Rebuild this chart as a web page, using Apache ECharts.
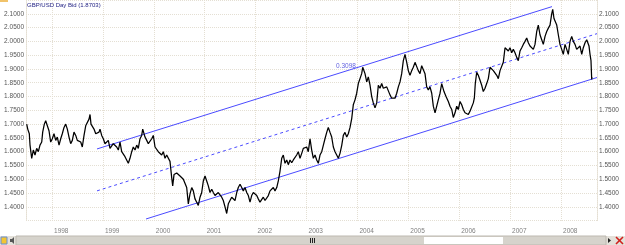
<!DOCTYPE html>
<html>
<head>
<meta charset="utf-8">
<script src="https://cdn.jsdelivr.net/npm/echarts@6/dist/echarts.min.js"></script>
<style>
  html, body { margin: 0; padding: 0; background: #fff; }
  #chart { width: 625px; height: 245px; }
</style>
</head>
<body>
<div id="chart"></div>
<script>
// GBP/USD daily bid; dates as decimal years
const years = [
  1997.503, 1997.523, 1997.554, 1997.568, 1997.601, 1997.633, 1997.666, 1997.699, 1997.731, 1997.764,
  1997.798, 1997.817, 1997.849, 1997.876, 1997.908, 1997.941, 1997.974, 1998.006, 1998.039, 1998.073,
  1998.104, 1998.138, 1998.171, 1998.202, 1998.236, 1998.269, 1998.301, 1998.334, 1998.367, 1998.399,
  1998.432, 1998.466, 1998.497, 1998.530, 1998.564, 1998.595, 1998.629, 1998.662, 1998.694, 1998.727,
  1998.747, 1998.766, 1998.792, 1998.825, 1998.859, 1998.890, 1998.923, 1998.943, 1998.976, 1999.008,
  1999.041, 1999.075, 1999.106, 1999.139, 1999.173, 1999.204, 1999.238, 1999.271, 1999.303, 1999.336,
  1999.369, 1999.401, 1999.434, 1999.468, 1999.499, 1999.532, 1999.566, 1999.597, 1999.631, 1999.664,
  1999.695, 1999.729, 1999.762, 1999.782, 1999.827, 1999.861, 1999.892, 1999.925, 1999.959, 1999.990,
  2000.024, 2000.057, 2000.088, 2000.122, 2000.155, 2000.187, 2000.220, 2000.253, 2000.285, 2000.318,
  2000.352, 2000.371, 2000.397, 2000.450, 2000.515, 2000.548, 2000.580, 2000.613, 2000.646, 2000.678,
  2000.711, 2000.745, 2000.776, 2000.809, 2000.843, 2000.874, 2000.908, 2000.941, 2000.973, 2001.006,
  2001.039, 2001.071, 2001.104, 2001.138, 2001.169, 2001.202, 2001.236, 2001.267, 2001.301, 2001.334,
  2001.365, 2001.399, 2001.432, 2001.464, 2001.497, 2001.530, 2001.562, 2001.595, 2001.629, 2001.660,
  2001.694, 2001.727, 2001.758, 2001.792, 2001.825, 2001.857, 2001.890, 2001.923, 2001.955, 2001.988,
  2002.022, 2002.053, 2002.086, 2002.120, 2002.151, 2002.185, 2002.218, 2002.250, 2002.283, 2002.316,
  2002.348, 2002.381, 2002.415, 2002.446, 2002.479, 2002.513, 2002.544, 2002.578, 2002.611, 2002.642,
  2002.676, 2002.709, 2002.741, 2002.774, 2002.807, 2002.839, 2002.872, 2002.906, 2002.937, 2002.971,
  2003.004, 2003.035, 2003.069, 2003.102, 2003.134, 2003.167, 2003.200, 2003.232, 2003.265, 2003.299,
  2003.330, 2003.363, 2003.397, 2003.428, 2003.462, 2003.495, 2003.527, 2003.560, 2003.593, 2003.625,
  2003.658, 2003.692, 2003.723, 2003.756, 2003.790, 2003.821, 2003.855, 2003.888, 2003.919, 2003.953,
  2003.986, 2004.018, 2004.051, 2004.084, 2004.104, 2004.116, 2004.149, 2004.183, 2004.214, 2004.248,
  2004.281, 2004.312, 2004.346, 2004.379, 2004.411, 2004.444, 2004.477, 2004.509, 2004.542, 2004.576,
  2004.607, 2004.640, 2004.674, 2004.705, 2004.739, 2004.772, 2004.804, 2004.837, 2004.870, 2004.902,
  2004.935, 2004.969, 2005.000, 2005.033, 2005.067, 2005.098, 2005.132, 2005.165, 2005.196, 2005.230,
  2005.263, 2005.295, 2005.328, 2005.361, 2005.393, 2005.426, 2005.460, 2005.491, 2005.525, 2005.558,
  2005.589, 2005.623, 2005.656, 2005.676, 2005.701, 2005.741, 2005.786, 2005.819, 2005.853, 2005.884,
  2005.918, 2005.951, 2005.982, 2006.016, 2006.049, 2006.081, 2006.114, 2006.147, 2006.179, 2006.212,
  2006.246, 2006.277, 2006.297, 2006.316, 2006.344, 2006.375, 2006.409, 2006.442, 2006.473, 2006.507,
  2006.540, 2006.572, 2006.605, 2006.639, 2006.670, 2006.703, 2006.737, 2006.768, 2006.802, 2006.835,
  2006.866, 2006.900, 2006.933, 2006.965, 2006.998, 2007.031, 2007.063, 2007.096, 2007.130, 2007.161,
  2007.194, 2007.228, 2007.259, 2007.293, 2007.326, 2007.358, 2007.391, 2007.424, 2007.456, 2007.489,
  2007.523, 2007.554, 2007.587, 2007.621, 2007.652, 2007.686, 2007.719, 2007.751, 2007.784, 2007.817,
  2007.837, 2007.862, 2007.882, 2007.916, 2007.947, 2007.980, 2008.014, 2008.045, 2008.079, 2008.112,
  2008.143, 2008.177, 2008.210, 2008.242, 2008.275, 2008.308, 2008.340, 2008.373, 2008.407, 2008.438,
  2008.472, 2008.505, 2008.525, 2008.550, 2008.570, 2008.589, 2008.603, 2008.609
];
const bid = [
  1.700, 1.682, 1.665, 1.624, 1.576, 1.606, 1.588, 1.612, 1.600, 1.624,
  1.635, 1.671, 1.700, 1.712, 1.694, 1.676, 1.635, 1.647, 1.665, 1.641,
  1.653, 1.624, 1.647, 1.665, 1.688, 1.700, 1.682, 1.653, 1.629, 1.641,
  1.671, 1.659, 1.641, 1.647, 1.635, 1.617, 1.659, 1.694, 1.700, 1.718,
  1.735, 1.700, 1.706, 1.682, 1.665, 1.659, 1.671, 1.682, 1.659, 1.647,
  1.629, 1.624, 1.641, 1.612, 1.606, 1.629, 1.635, 1.617, 1.606, 1.635,
  1.600, 1.594, 1.582, 1.576, 1.558, 1.576, 1.600, 1.617, 1.606, 1.624,
  1.612, 1.647, 1.659, 1.682, 1.653, 1.641, 1.629, 1.624, 1.647, 1.659,
  1.617, 1.612, 1.600, 1.594, 1.588, 1.600, 1.576, 1.588, 1.582, 1.565,
  1.505, 1.476, 1.517, 1.523, 1.512, 1.517, 1.500, 1.500, 1.470, 1.411,
  1.447, 1.470, 1.458, 1.429, 1.417, 1.405, 1.435, 1.452, 1.494, 1.512,
  1.494, 1.476, 1.452, 1.464, 1.452, 1.441, 1.435, 1.452, 1.447, 1.435,
  1.423, 1.400, 1.376, 1.411, 1.423, 1.435, 1.429, 1.423, 1.452, 1.470,
  1.482, 1.470, 1.458, 1.470, 1.452, 1.441, 1.417, 1.441, 1.452, 1.458,
  1.441, 1.429, 1.417, 1.423, 1.435, 1.423, 1.429, 1.441, 1.458, 1.464,
  1.470, 1.458, 1.470, 1.494, 1.529, 1.576, 1.588, 1.558, 1.570, 1.553,
  1.570, 1.560, 1.570, 1.565, 1.588, 1.600, 1.576, 1.594, 1.612, 1.606,
  1.617, 1.600, 1.647, 1.606, 1.576, 1.588, 1.570, 1.558, 1.588, 1.600,
  1.623, 1.647, 1.670, 1.688, 1.670, 1.653, 1.617, 1.600, 1.588, 1.576,
  1.594, 1.623, 1.659, 1.670, 1.653, 1.665, 1.688, 1.720, 1.770, 1.788,
  1.812, 1.847, 1.865, 1.883, 1.906, 1.912, 1.883, 1.853, 1.871, 1.841,
  1.800, 1.777, 1.759, 1.777, 1.841, 1.830, 1.847, 1.830, 1.824, 1.835,
  1.830, 1.806, 1.794, 1.788, 1.794, 1.812, 1.835, 1.853, 1.883, 1.930,
  1.953, 1.924, 1.894, 1.877, 1.894, 1.906, 1.924, 1.930, 1.894, 1.883,
  1.912, 1.918, 1.883, 1.835, 1.824, 1.835, 1.812, 1.765, 1.741, 1.747,
  1.788, 1.812, 1.847, 1.853, 1.818, 1.800, 1.782, 1.765, 1.753, 1.724,
  1.741, 1.765, 1.753, 1.782, 1.770, 1.753, 1.741, 1.747, 1.735, 1.747,
  1.741, 1.777, 1.794, 1.847, 1.888, 1.877, 1.859, 1.841, 1.818, 1.830,
  1.847, 1.865, 1.906, 1.912, 1.894, 1.900, 1.877, 1.865, 1.894, 1.900,
  1.924, 1.977, 1.983, 1.965, 1.977, 1.959, 1.971, 1.959, 1.942, 1.930,
  1.965, 1.977, 1.989, 2.000, 2.012, 1.995, 1.983, 1.989, 1.971, 1.989,
  2.036, 2.059, 2.024, 2.006, 1.989, 2.018, 2.036, 2.048, 2.059, 2.100,
  2.116, 2.083, 2.089, 2.059, 2.024, 1.989, 1.971, 1.953, 1.989, 1.971,
  1.953, 2.000, 2.018, 2.000, 1.989, 1.971, 1.965, 1.983, 1.953, 1.977,
  1.995, 2.006, 2.012, 1.983, 1.953, 1.930, 1.862, 1.870
];

// channel drawn on the chart (start / end)
const upperYears = [1998.884, 2007.823];
const upperVals = [1.610, 2.126];
const midYears = [1998.884, 2008.707];
const midVals = [1.458, 2.028];
const lowerYears = [1999.847, 2008.707];
const lowerVals = [1.356, 1.869];
const fibText = '0.3098';
const fibAt = [2003.776, 1.909];

const yearTicks = [1998, 1999, 2000, 2001, 2002, 2003, 2004, 2005, 2006, 2007, 2008];
const xMin = 1997.489, xMax = 2008.707;
const lastBid = '1.8703';

const zip = (xs, ys) => xs.map((x, i) => [x, ys[i]]);

const grid = '#e4dfd3';
const blue = '#4b4bff';
const font = 'Liberation Sans';

const yAxisBase = {
  type: 'value',
  min: 1.35,
  max: 2.15,
  interval: 0.05,
  axisLine: { show: true, lineStyle: { color: grid, type: 'dotted' } },
  axisTick: { show: false },
  splitLine: { show: true, lineStyle: { color: grid, type: 'dotted' } },
  axisLabel: {
    showMinLabel: false,
    showMaxLabel: false,
    color: '#555',
    fontSize: 6.5,
    fontFamily: font,
    margin: 2,
    formatter: v => v.toFixed(4)
  }
};

const chart = echarts.init(document.getElementById('chart'));
chart.setOption({
  animation: false,
  backgroundColor: '#fff',
  grid: { left: 26, right: 28, top: -5.65, bottom: 24.35 },
  title: {
    text: 'GBP/USD Day Bid (' + lastBid + ')',
    left: 27, top: 2, padding: 0,
    textStyle: { color: '#1c1c80', fontSize: 6, fontWeight: 'normal', fontFamily: font }
  },
  xAxis: {
    type: 'value',
    min: xMin,
    max: xMax,
    axisLine: { show: false },
    axisTick: { show: false, customValues: yearTicks },
    splitLine: { show: true, lineStyle: { color: grid, type: 'dotted' } },
    axisLabel: {
      customValues: yearTicks,
      color: '#808080',
      fontSize: 6.5,
      fontFamily: font,
      margin: 7,
      align: 'left',
      padding: [0, 0, 0, 2],
      formatter: v => String(Math.round(v))
    }
  },
  yAxis: [
    Object.assign({}, yAxisBase, { position: 'left' }),
    Object.assign({}, yAxisBase, { position: 'right', splitLine: { show: false } })
  ],
  series: [
    {
      name: 'Bid', type: 'line', showSymbol: false,
      data: zip(years, bid),
      lineStyle: { color: '#000', width: 1.25 },
      z: 3
    },
    {
      name: 'upper', type: 'line', showSymbol: false,
      data: zip(upperYears, upperVals),
      lineStyle: { color: blue, width: 1 },
      markPoint: {
        symbol: 'circle', symbolSize: 0,
        label: { show: true, position: 'inside', formatter: fibText, color: '#6464e0', fontSize: 6.5, fontFamily: font },
        data: [{ coord: fibAt }]
      },
      z: 2
    },
    {
      name: 'mid', type: 'line', showSymbol: false,
      data: zip(midYears, midVals),
      lineStyle: { color: blue, width: 1, type: [3, 3] },
      z: 2
    },
    {
      name: 'lower', type: 'line', showSymbol: false,
      data: zip(lowerYears, lowerVals),
      lineStyle: { color: blue, width: 1 },
      z: 2
    }
  ],
  graphic: [
    // corner tab
    { type: 'rect', shape: { x: 0, y: 0, width: 8, height: 2 }, style: { fill: '#f1c36a' } },
    // scroll bar
    { type: 'rect', shape: { x: 0, y: 236, width: 625, height: 9 }, style: { fill: '#e4e1da' } },
    { type: 'rect', shape: { x: 16, y: 236, width: 590, height: 9 }, style: { fill: '#d6d3cc', stroke: '#bdb9b0', lineWidth: 1 } },
    { type: 'rect', shape: { x: 424, y: 237, width: 79, height: 7 }, style: { fill: '#ffffff' } },
    { type: 'rect', shape: { x: 310, y: 238, width: 1, height: 5 }, style: { fill: '#222' } },
    { type: 'rect', shape: { x: 312, y: 238, width: 1, height: 5 }, style: { fill: '#222' } },
    { type: 'rect', shape: { x: 314, y: 238, width: 1, height: 5 }, style: { fill: '#222' } },
    { type: 'polygon', shape: { points: [[608, 238], [608, 243], [611, 240.5]] }, style: { fill: '#222' } },
    { type: 'line', shape: { x1: 616, y1: 237, x2: 623, y2: 244 }, style: { stroke: '#d0201c', lineWidth: 1.6 } },
    { type: 'line', shape: { x1: 623, y1: 237, x2: 616, y2: 244 }, style: { stroke: '#d0201c', lineWidth: 1.6 } },
    { type: 'rect', shape: { x: 1, y: 237, width: 6, height: 7 }, style: { fill: '#f3c532', stroke: '#6a8fd0', lineWidth: 1 } },
    { type: 'polygon', shape: { points: [[10, 239], [12, 239], [14, 237], [14, 244], [12, 242], [10, 242]] }, style: { fill: '#555' } }
  ]
});
</script>
</body>
</html>
